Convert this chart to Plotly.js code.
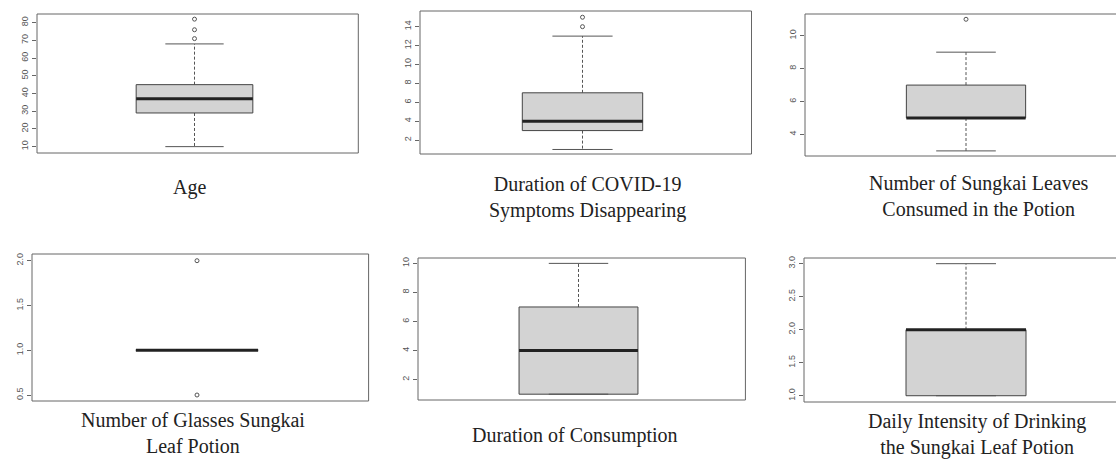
<!DOCTYPE html>
<html>
<head>
<meta charset="utf-8">
<script src="https://cdn.plot.ly/plotly-3.0.1.min.js"></script>
<style>
  html, body { margin: 0; padding: 0; background: #fff; }
  #chart { width: 1116px; height: 459px; }
</style>
</head>
<body>
<div id="chart"></div>
<script>
// ---- Data ----
const panelTitles = [
  "Age",
  "Duration of COVID-19<br>Symptoms Disappearing",
  "Number of Sungkai Leaves<br>Consumed in the Potion",
  "Number of Glasses Sungkai<br>Leaf Potion",
  "Duration of Consumption",
  "Daily Intensity of Drinking<br>the Sungkai Leaf Potion"
];
const lowerWhisker = [10, 1, 3, 1, 1, 1];
const q1Values     = [29, 3, 5, 1, 1, 1];
const medianValues = [37, 4, 5, 1, 4, 2];
const q3Values     = [45, 7, 7, 1, 7, 2];
const upperWhisker = [68, 13, 9, 1, 10, 3];
const outlierValues = [[71, 76, 82], [14, 15], [11], [0.5, 2], [], []];
const tickValues = [
  [10, 20, 30, 40, 50, 60, 70, 80],
  [2, 4, 6, 8, 10, 12, 14],
  [4, 6, 8, 10],
  [0.5, 1.0, 1.5, 2.0],
  [2, 4, 6, 8, 10],
  [1.0, 1.5, 2.0, 2.5, 3.0]
];
const tickFormats = ["", "", "", ".1f", "", ".1f"];

// ---- Layout geometry (pixels) ----
const W = 1116, H = 459;
// [left, right(virtual), top, bottom]
const frames = [
  [37, 352, 14, 153],
  [420, 745, 11, 154],
  [805, 1127, 14, 156],
  [32, 362, 254, 401],
  [418, 739, 258, 400],
  [804, 1128, 258, 402]
];
const yRanges = [
  [6.4, 84.9], [0.52, 15.66], [2.69, 11.32],
  [0.433, 2.075], [0.6, 10.37], [0.905, 3.086]
];
const titlePos = [
  [189, 188], [587, 197], [979, 196],
  [193, 433], [575, 435], [977, 434]
];

const BOX_HALF = 0.2, CAP_HALF = 0.1, XPAD = 0.54;
const lineCol = "#444", darkCol = "#222", fillCol = "#d3d3d3";

const traces = [];
const layout = {
  width: W, height: H,
  margin: {l: 0, r: 0, t: 0, b: 0},
  paper_bgcolor: "#fff", plot_bgcolor: "#fff",
  showlegend: false,
  shapes: [], annotations: []
};

for (let i = 0; i < 6; i++) {
  const n = i + 1;
  const xa = "x" + (n === 1 ? "" : n), ya = "y" + (n === 1 ? "" : n);
  const xk = "xaxis" + (n === 1 ? "" : n), yk = "yaxis" + (n === 1 ? "" : n);
  const [L, R, T, B] = frames[i];
  const Rc = Math.min(R, W);
  const xmax = -XPAD + 2 * XPAD * (Rc - L) / (R - L);

  layout[xk] = {
    domain: [L / W, Rc / W], range: [-XPAD, xmax],
    showgrid: false, zeroline: false, showticklabels: false, ticks: "",
    showline: false, fixedrange: true, anchor: ya
  };
  layout[yk] = {
    domain: [1 - B / H, 1 - T / H], range: yRanges[i],
    showgrid: false, zeroline: false, showline: false,
    tickmode: "array", tickvals: tickValues[i], tickformat: tickFormats[i],
    ticks: "outside", ticklen: 4, tickwidth: 1, tickcolor: "#666",
    tickangle: -90, tickfont: {family: "Liberation Sans, Arial, sans-serif", size: 9, color: "#555"},
    fixedrange: true, anchor: xa
  };

  // frame
  layout.shapes.push({
    type: "rect", xref: xa + " domain", yref: ya + " domain",
    x0: 0, x1: (R - L) / (Rc - L) + 0.02, y0: 0, y1: 1,
    line: {color: "#666", width: 1}, fillcolor: "rgba(0,0,0,0)", layer: "above"
  });

  const lo = lowerWhisker[i], q1 = q1Values[i], md = medianValues[i],
        q3 = q3Values[i], hi = upperWhisker[i];

  // whiskers (dashed)
  traces.push({
    type: "scatter", mode: "lines", xaxis: xa, yaxis: ya, hoverinfo: "skip",
    x: [0, 0, null, 0, 0], y: [q3, hi, null, q1, lo],
    line: {color: "#555", width: 1, dash: "3px,2px"}
  });
  // box
  traces.push({
    type: "scatter", mode: "lines", xaxis: xa, yaxis: ya, hoverinfo: "skip",
    x: [-BOX_HALF, BOX_HALF, BOX_HALF, -BOX_HALF, -BOX_HALF],
    y: [q1, q1, q3, q3, q1],
    fill: "toself", fillcolor: fillCol,
    line: {color: lineCol, width: 1}
  });
  // caps
  traces.push({
    type: "scatter", mode: "lines", xaxis: xa, yaxis: ya, hoverinfo: "skip",
    x: [-CAP_HALF, CAP_HALF, null, -CAP_HALF, CAP_HALF],
    y: [hi, hi, null, lo, lo],
    line: {color: "#555", width: 1}
  });
  // median
  traces.push({
    type: "scatter", mode: "lines", xaxis: xa, yaxis: ya, hoverinfo: "skip",
    x: [-BOX_HALF, BOX_HALF], y: [md, md],
    line: {color: darkCol, width: 3}
  });
  // outliers
  if (outlierValues[i].length) {
    traces.push({
      type: "scatter", mode: "markers", xaxis: xa, yaxis: ya, hoverinfo: "skip",
      x: outlierValues[i].map(() => 0), y: outlierValues[i],
      marker: {symbol: "circle-open", size: 4, color: "#555", line: {width: 1, color: "#555"}}
    });
  }

  layout.annotations.push({
    xref: "paper", yref: "paper",
    x: titlePos[i][0] / W, y: 1 - titlePos[i][1] / H,
    xanchor: "center", yanchor: "middle", showarrow: false,
    text: panelTitles[i], align: "center",
    font: {family: "Liberation Serif, Times New Roman, serif", size: 20, color: "#222"}
  });
}

Plotly.newPlot("chart", traces, layout, {displayModeBar: false, staticPlot: true});
</script>
</body>
</html>
